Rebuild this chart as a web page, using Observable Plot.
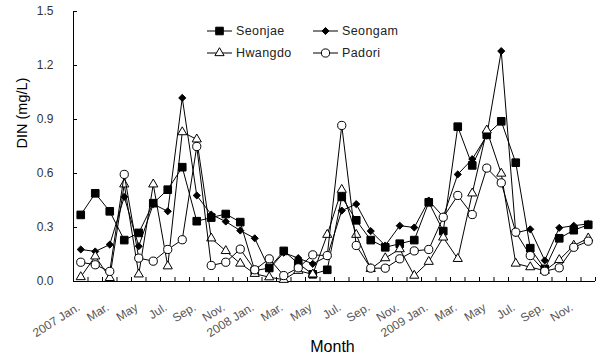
<!DOCTYPE html>
<html><head><meta charset="utf-8">
<script src="https://cdn.jsdelivr.net/npm/d3@7"></script>
<script src="https://cdn.jsdelivr.net/npm/@observablehq/plot@0.6"></script>
<style>
body{margin:0;background:#fff;}
#chart svg{display:block;}
</style>
</head><body><div id="chart"></div>
<script>
// ---- data ----
const monthNames = ["Jan.","Feb.","Mar.","Apr.","May","Jun.","Jul.","Aug.","Sep.","Oct.","Nov.","Dec."];
const years = [2007, 2008, 2009];
const seriesNames = ["Seonjae", "Seongam", "Hwangdo", "Padori"];
const seonjae = [0.37,0.49,0.39,0.23,0.27,0.435,0.51,0.635,0.335,0.355,0.375,0.33,
                 0.06,0.075,0.17,0.10,0.04,0.065,0.47,0.34,0.23,0.19,0.21,0.23,
                 0.44,0.28,0.86,0.645,0.815,0.89,0.66,0.185,0.07,0.24,0.285,0.315];
const seongam = [0.178,0.167,0.205,0.47,0.196,0.43,0.39,1.02,0.478,0.372,0.333,0.283,
                 0.24,0.07,0.16,0.13,0.098,0.14,0.394,0.43,0.28,0.20,0.31,0.30,
                 0.45,0.36,0.595,0.68,0.81,1.28,0.27,0.29,0.117,0.298,0.31,0.32];
const hwangdo = [0.025,0.14,0.02,0.54,0.04,0.54,0.085,0.83,0.79,0.24,0.17,0.10,
                 0.043,0.024,0.01,0.06,0.04,0.26,0.51,0.26,0.07,0.13,0.18,0.033,
                 0.11,0.245,0.126,0.49,0.84,0.60,0.10,0.08,0.06,0.12,0.20,0.24];
const padori  = [0.107,0.093,0.056,0.595,0.13,0.113,0.178,0.232,0.75,0.089,0.107,0.18,
                 0.065,0.126,0.033,0.076,0.148,0.144,0.867,0.20,0.074,0.074,0.126,0.17,
                 0.178,0.357,0.478,0.372,0.63,0.548,0.274,0.144,0.057,0.076,0.19,0.224];
const yTicks = [0, 0.3, 0.6, 0.9, 1.2, 1.5];
const labelledMonths = ["Jan.","Mar.","May","Jul.","Sep.","Nov."];
const yTitle = "DIN (mg/L)";
const xTitle = "Month";

// ---- build tables ----
const seriesValues = [seonjae, seongam, hwangdo, padori];
const rows = [];
seriesValues.forEach((vals, s) => vals.forEach((v, i) => rows.push({series: seriesNames[s], x: i + 0.5, v})));
const labels = [];
years.forEach((yr, yi) => monthNames.forEach((m, mi) => {
  if (labelledMonths.includes(m)) labels.push({x: yi * 12 + mi + 0.5, text: mi === 0 ? `${yr} ${m}` : m});
}));
const boundaries = d3.range(0, years.length * 12 + 1);

const style = {
  Seonjae: {symbol: d3.symbolSquare, r: 4.3, fill: "#000"},
  Seongam: {symbol: d3.symbolDiamond2, r: 3.2, fill: "#000"},
  Hwangdo: {symbol: d3.symbolTriangle, r: 3.4, fill: "#fff"},
  Padori:  {symbol: d3.symbolCircle, r: 4.1, fill: "#fff"}
};

const seriesMarks = seriesNames.flatMap(name => {
  const d = rows.filter(r => r.series === name);
  const st = style[name];
  return [
    Plot.line(d, {x: "x", y: "v", stroke: "#000", strokeWidth: 1}),
    Plot.dot(d, {x: "x", y: "v", symbol: st.symbol, r: st.r, fill: st.fill, stroke: "#000", strokeWidth: 1})
  ];
});

const chart = Plot.plot({
  width: 597, height: 361,
  marginLeft: 73, marginRight: 2, marginTop: 11, marginBottom: 80,
  style: {fontFamily: "'Liberation Sans', Arial, sans-serif", background: "#fff"},
  x: {domain: [0, years.length * 12], axis: null},
  y: {domain: [0, 1.5], axis: null},
  marks: [
    Plot.axisY({ticks: yTicks, tickSize: -4, tickPadding: 24, tickFormat: d3.format(".1f"), fontSize: 12, fill: "#333", stroke: "#000", label: null}),
    Plot.axisX({ticks: boundaries, tickSize: -4, fill: "none", stroke: "#000", label: null}),
    Plot.ruleX([0], {stroke: "#000"}),
    Plot.ruleY([0], {stroke: "#000"}),
    Plot.text(labels, {x: "x", text: "text", frameAnchor: "bottom", rotate: -32, textAnchor: "end", dx: 0, dy: 28, fill: "#555", fontSize: 12, letterSpacing: "0.3px"}),
    Plot.text([yTitle], {frameAnchor: "left", rotate: -90, dx: -51, dy: 2, fontSize: 14.5, fill: "#000"}),
    Plot.text([xTitle], {frameAnchor: "bottom", dx: -2, dy: 70, fontSize: 16, fill: "#000"}),
    ...seriesMarks
  ]
});
document.getElementById("chart").appendChild(chart);

// ---- legend (inside the plot area, top) ----
const svg = d3.select(chart);
const legend = svg.append("g").attr("font-family", "'Liberation Sans', Arial, sans-serif").attr("font-size", 12.5).attr("fill", "#222").attr("text-anchor", "start");
const legX = [207, 313], legY = [31, 53];
seriesNames.forEach((name, j) => {
  const cx = legX[j % 2], cy = legY[Math.floor(j / 2)];
  const st = style[name];
  const g = legend.append("g").attr("transform", `translate(${cx},${cy})`);
  g.append("line").attr("x1", 0).attr("x2", 25).attr("stroke", "#000");
  g.append("path").attr("transform", "translate(12.5,0)")
    .attr("d", d3.symbol(st.symbol, Math.PI * st.r * st.r)())
    .attr("fill", st.fill).attr("stroke", "#000");
  g.append("text").attr("x", 29).attr("dy", "0.35em").attr("text-anchor", "start").attr("letter-spacing", "0.4px").text(name);
});
</script>
</body></html>
